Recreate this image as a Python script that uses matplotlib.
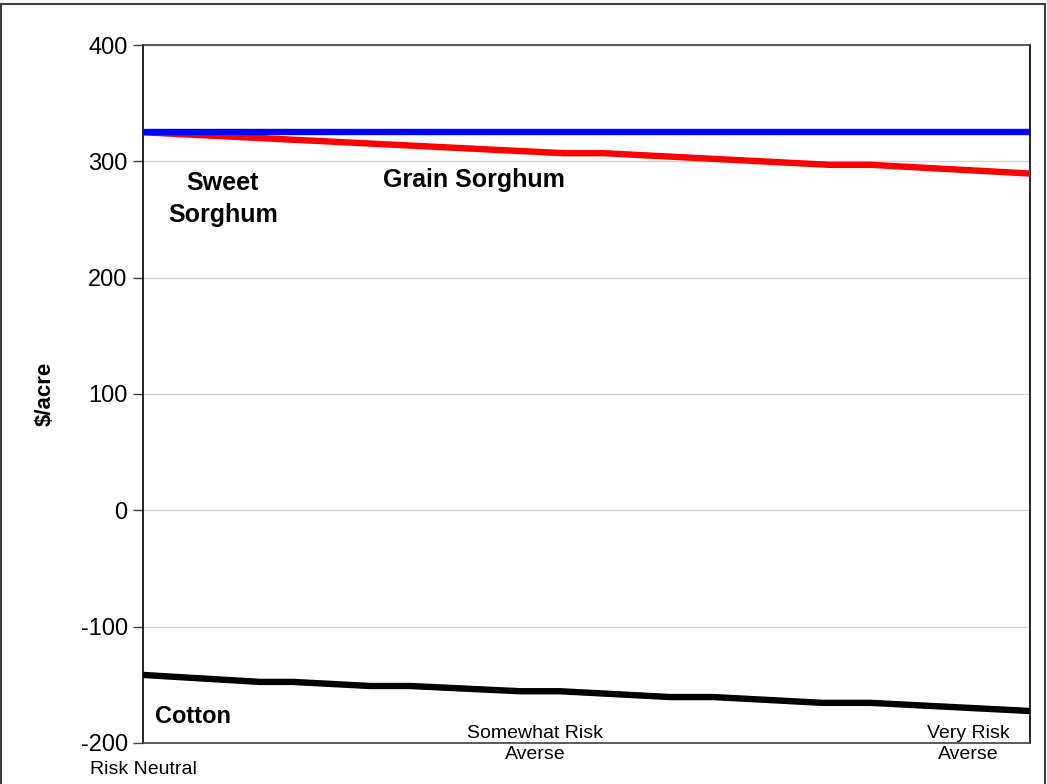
"""Net returns ($/acre) for sweet sorghum, grain sorghum and cotton
across risk-aversion levels (risk neutral -> very risk averse)."""

import matplotlib
matplotlib.use("Agg")
import matplotlib.pyplot as plt
from matplotlib.patches import Rectangle

plt.rcParams["font.family"] = ["Liberation Sans", "DejaVu Sans"]
plt.rcParams["axes.unicode_minus"] = False

# ---------- data (risk aversion scaled 0 = neutral, 1 = very averse) --------
sweet_x = [0.0, 1.0]
sweet_y = [325, 325]

grain_x = [0.0, 0.474, 0.519, 0.774, 0.820, 1.0]
grain_y = [325, 307, 307, 297, 297, 289.5]

cotton_x = [0.0, 0.132, 0.169, 0.256, 0.301, 0.425, 0.470,
            0.594, 0.643, 0.766, 0.820, 1.0]
cotton_y = [-141.5, -147.5, -147.5, -151, -151, -155.5, -155.5,
            -160.5, -160.5, -165.5, -165.5, -172.5]

y_ticks = [-200, -100, 0, 100, 200, 300, 400]

# ---------- figure -----------------------------------------------------------
fig = plt.figure(figsize=(10.47, 7.84), dpi=100)
ax = fig.add_axes([0.1366, 0.0523, 0.8472, 0.8903])

ax.plot(sweet_x, sweet_y, color="#0000ff", linewidth=4.6, zorder=4,
        solid_capstyle="butt")
ax.plot(grain_x, grain_y, color="#ff0000", linewidth=4.6, zorder=3,
        solid_capstyle="butt")
ax.plot(cotton_x, cotton_y, color="black", linewidth=4.6, zorder=3,
        solid_capstyle="butt")

ax.set_xlim(0, 1)
ax.set_ylim(-200, 400)
ax.set_yticks(y_ticks)
ax.set_xticks([])
ax.yaxis.grid(True, color="#d4d4d4", linewidth=1.0)
ax.set_axisbelow(True)
ax.tick_params(axis="y", labelsize=17, length=7, width=1, color="#404040",
               pad=4)

for side in ["left", "right"]:
    ax.spines[side].set_color("black")
    ax.spines[side].set_linewidth(1.2)
for side in ["top", "bottom"]:
    ax.spines[side].set_color("#404040")
    ax.spines[side].set_linewidth(1.2)

ax.set_ylabel("$/acre", fontsize=16, fontweight="bold")
ax.yaxis.set_label_coords(-0.098, 0.5)

# series labels
ax.text(0.09, 268, "Sweet\nSorghum", fontsize=18, fontweight="bold",
        ha="center", va="center", linespacing=1.42)
ax.text(0.373, 284, "Grain Sorghum", fontsize=18, fontweight="bold",
        ha="center", va="center")
ax.text(0.0135, -177, "Cotton", fontsize=17, fontweight="bold",
        ha="left", va="center")

# risk-level annotations along the bottom
ax.text(0.442, -201, "Somewhat Risk\nAverse", fontsize=14, ha="center",
        va="center", linespacing=1.35, clip_on=False)
ax.text(0.930, -201, "Very Risk\nAverse", fontsize=14, ha="center",
        va="center", linespacing=1.35, clip_on=False)
ax.text(0.0, -223, "Risk Neutral", fontsize=14, ha="center",
        va="center", clip_on=False)

# outer frame around the chart
fig.patches.append(Rectangle((0.001, -0.01), 0.997, 1.005,
                             transform=fig.transFigure, fill=False,
                             edgecolor="#404040", linewidth=1.5))

fig.savefig("out.png", dpi=100, facecolor="white")
